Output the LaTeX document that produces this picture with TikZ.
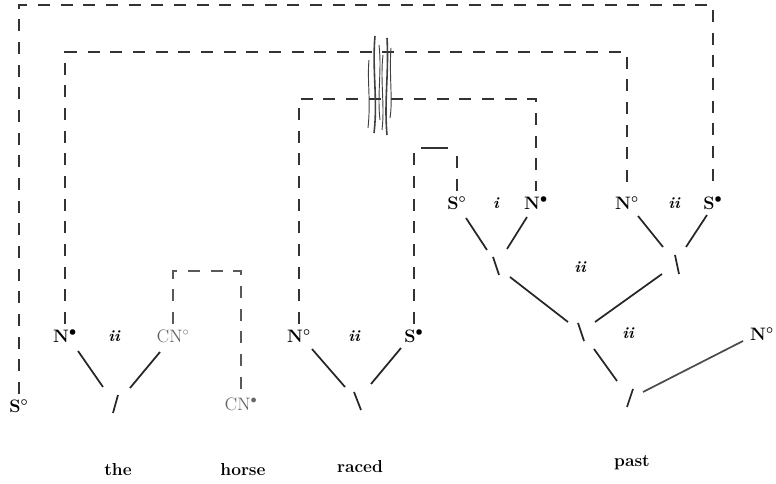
\documentclass[tikz,border=0pt]{standalone}
\begin{document}
\begin{tikzpicture}[x=0.75pt,y=-0.75pt,
  lab/.style={font=\fontsize{13.5}{15}\selectfont\bfseries\boldmath, inner sep=1pt},
  glab/.style={font=\fontsize{13.5}{15}\selectfont, text=black!60, inner sep=1pt},
  idx/.style={font=\fontsize{12}{14}\selectfont\bfseries\itshape, inner sep=1pt},
  word/.style={font=\fontsize{13}{15}\selectfont\bfseries, inner sep=1pt},
  tree/.style={line width=1.3pt, black!85},
  dsh/.style={line width=1.5pt, black!80, dash pattern=on 9pt off 8pt, shorten <=3pt, shorten >=3pt},
  thin dsh/.style={line width=1.1pt, black!65, dash pattern=on 9pt off 8pt, shorten <=3pt, shorten >=3pt},
  hatch/.style={line width=0.7pt, black!75}]
\useasboundingbox (0,0) rectangle (776,484);

% labels
\node[lab] (So1) at (19,406) {S$^\circ$};
\node[lab] (Nb1) at (65,336) {N$^\bullet$};
\node[idx] (i1) at (114,336) {ii};
\node[glab] (CNo) at (173,336) {CN$^\circ$};
\node[glab] (CNb) at (241,404) {CN$^\bullet$};
\node[lab] (No2) at (299,336) {N$^\circ$};
\node[idx] (i2) at (354,336) {ii};
\node[lab] (Sb2) at (414,336) {S$^\bullet$};
\node[lab] (So3) at (457,203) {S$^\circ$};
\node[idx] (i3) at (496,203) {i};
\node[lab] (Nb3) at (536,203) {N$^\bullet$};
\node[lab] (No4) at (627,203) {N$^\circ$};
\node[idx] (i4) at (674,203) {ii};
\node[lab] (Sb4) at (713,203) {S$^\bullet$};
\node[idx] (i5) at (580,267) {ii};
\node[idx] (i6) at (628,333) {ii};
\node[lab] (No5) at (762,334) {N$^\circ$};

% words
\node[word] (w1) at (118,470) {the};
\node[word] (w2) at (243,470) {horse};
\node[word] (w3) at (360,467) {raced};
\node[word] (w4) at (632,463) {past};

% levels of the dashed links
\coordinate (t1) at (0,5);
\coordinate (t2) at (0,52);
\coordinate (t3) at (0,99);
\coordinate (t4) at (0,148);
\coordinate (t5) at (0,271);

\draw[dsh] (So1.north) -- (So1.north |- t1) -- (Sb4.north |- t1) -- (Sb4.north);
\draw[dsh] (Nb1.north) -- (Nb1.north |- t2) -- (No4.north |- t2) -- (No4.north);
\draw[dsh] (No2.north) -- (No2.north |- t3) -- (Nb3.north |- t3) -- (Nb3.north);
\draw[dsh, shorten >=0pt] (Sb2.north) -- ([yshift=-3pt]Sb2.north |- t4);
\draw[dsh, shorten >=0pt] (So3.north) -- ([yshift=-3pt]So3.north |- t4);
\draw[line width=1.5pt, black!80] ([xshift=5pt]Sb2.north |- t4) coordinate (sl) -- ([xshift=-7pt]So3.north |- t4) coordinate (sr);
\draw[thin dsh] (CNo.north) -- (CNo.north |- t5) -- (CNb.north |- t5) -- (CNb.north);

% crossing marks
\draw[hatch, line width=1.2pt] (375,36) .. controls (372,70) and (378,100) .. (374,133);
\draw[hatch, line width=1.2pt] (387,38) .. controls (389,75) and (384,100) .. (387,135);
\draw[hatch] (369,60) .. controls (367,80) and (371,100) .. (368,128);
\draw[hatch] (379,45) .. controls (382,70) and (377,95) .. (380,120);
\draw[hatch] (383,55) .. controls (380,80) and (385,105) .. (382,130);
\draw[hatch] (391,48) .. controls (389,75) and (393,100) .. (390,118);

% tree: the
\draw[tree] (78,351) coordinate (a1) -- (103,387) coordinate (a2);
\draw[tree] (160,352) coordinate (a3) -- (130,388) coordinate (a4);
\draw[tree] (118,395) coordinate (a5) -- (113,413) coordinate (a6);
% tree: raced
\draw[tree] (312,349) coordinate (b1) -- (345,387) coordinate (b2);
\draw[tree] (401,348) coordinate (b3) -- (371,384) coordinate (b4);
\draw[tree] (354,392) coordinate (b5) -- (361,410) coordinate (b6);
% tree: S i N
\draw[tree] (466,218) coordinate (c1) -- (487,250) coordinate (c2);
\draw[tree] (527,217) coordinate (c3) -- (507,249) coordinate (c4);
\draw[tree] (493,257) coordinate (c5) -- (499,275) coordinate (c6);
% tree: N ii S
\draw[tree] (638,216) coordinate (d1) -- (663,247) coordinate (d2);
\draw[tree] (707,215) coordinate (d3) -- (686,247) coordinate (d4);
\draw[tree] (675,255) coordinate (d5) -- (679,274) coordinate (d6);
% middle junction
\draw[tree] (510,277) coordinate (e1) -- (568,322) coordinate (e2);
\draw[tree] (662,274) coordinate (e3) -- (595,322) coordinate (e4);
\draw[tree] (578,323) coordinate (e5) -- (584,341) coordinate (e6);
% lower junction
\draw[tree] (594,349) coordinate (f1) -- (617,381) coordinate (f2);
\draw[tree, black!70] (743,341) coordinate (f3) -- (643,392) coordinate (f4);
\draw[tree] (633,389) coordinate (f5) -- (627,407) coordinate (f6);
\end{tikzpicture}
\end{document}
